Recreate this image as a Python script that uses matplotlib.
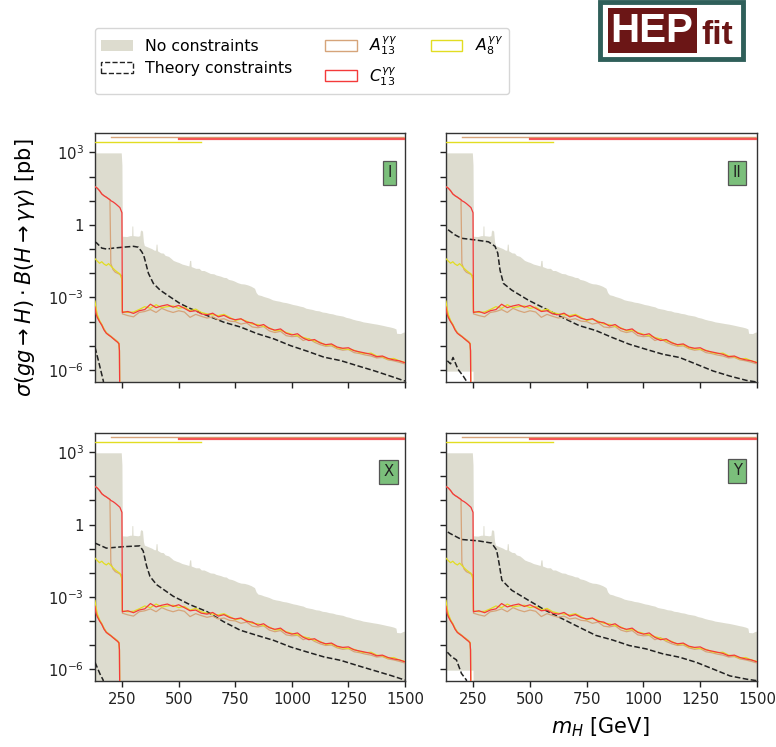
import numpy as np
import matplotlib
matplotlib.use("Agg")
import matplotlib.pyplot as plt
from matplotlib.patches import Patch, Rectangle
from matplotlib.ticker import FixedLocator, FixedFormatter, NullLocator

# ---------------- data ----------------
panels = ["I", "II", "X", "Y"]

# mass grid for the experimental curves (GeV)
mass = [130, 140, 150, 160, 170, 180, 190, 196, 200, 210, 220, 230, 240, 249,
        251, 275, 300, 325, 350, 375, 400, 425, 450, 475, 500, 525, 550, 575,
        600, 625, 650, 675, 700, 725, 750, 775, 800, 825, 850, 875, 900, 925,
        950, 975, 1000, 1025, 1050, 1075, 1100, 1125, 1150, 1175, 1200, 1225,
        1250, 1275, 1300, 1325, 1350, 1375, 1400, 1425, 1450, 1475, 1500]

C13_upper = [38, 33, 26, 19, 16, 14, 12, 11, 10, 8.9, 7.6, 6.3, 5.2, 3.2,
             2.40e-4, 2.63e-4, 2.19e-4, 2.82e-4, 3.16e-4, 5.25e-4, 3.80e-4, 4.47e-4,
             5.01e-4, 3.98e-4, 4.68e-4, 3.55e-4, 2.63e-4, 2.82e-4, 2.09e-4, 1.91e-4,
             2.24e-4, 1.58e-4, 1.82e-4, 1.38e-4, 1.20e-4, 1.32e-4, 9.55e-5, 8.91e-5,
             6.61e-5, 7.59e-5, 5.25e-5, 4.47e-5, 5.01e-5, 3.31e-5, 2.82e-5, 3.16e-5,
             2.09e-5, 1.66e-5, 1.82e-5, 1.32e-5, 1.12e-5, 1.20e-5, 8.91e-6, 7.94e-6,
             8.32e-6, 6.31e-6, 5.62e-6, 5.01e-6, 4.47e-6, 3.55e-6, 3.80e-6, 3.02e-6,
             2.63e-6, 2.40e-6, 2.00e-6]

A13_upper = [38, 33, 26, 19, 16, 14, 12, 11, 0.025, 0.014, 0.011, 0.010, 0.0089, 0.0079,
             2.09e-4, 1.78e-4, 1.58e-4, 2.40e-4, 2.63e-4, 3.16e-4, 2.40e-4, 3.55e-4,
             2.82e-4, 2.40e-4, 2.82e-4, 2.51e-4, 1.51e-4, 2.00e-4, 1.66e-4, 1.41e-4,
             1.58e-4, 1.20e-4, 1.32e-4, 1.05e-4, 1.00e-4, 7.94e-5, 8.91e-5, 6.03e-5,
             5.62e-5, 6.31e-5, 4.17e-5, 3.55e-5, 3.98e-5, 2.63e-5, 2.40e-5, 2.51e-5,
             1.66e-5, 2.00e-5, 1.41e-5, 1.12e-5, 9.55e-6, 1.00e-5, 7.59e-6, 6.61e-6,
             7.08e-6, 5.25e-6, 4.79e-6, 4.17e-6, 3.80e-6, 3.16e-6, 3.31e-6, 2.63e-6,
             2.40e-6, 2.09e-6, 1.78e-6]

A8_upper = [0.040, 0.032, 0.026, 0.030, 0.024, 0.021, 0.025, 0.022, 0.020, 0.016, 0.013,
            0.011, 0.0095, 0.0056,
            2.63e-4, 2.40e-4, 2.51e-4, 3.16e-4, 4.17e-4, 3.55e-4, 5.01e-4, 3.80e-4,
            4.17e-4, 4.47e-4, 3.55e-4, 3.98e-4, 2.82e-4, 3.31e-4, 2.40e-4, 2.09e-4,
            1.91e-4, 1.78e-4, 2.00e-4, 1.51e-4, 1.12e-4, 1.26e-4, 1.05e-4, 7.94e-5,
            7.59e-5, 6.31e-5, 5.62e-5, 4.17e-5, 4.47e-5, 3.55e-5, 3.02e-5, 2.63e-5,
            2.24e-5, 1.91e-5, 1.58e-5, 1.41e-5, 1.05e-5, 1.12e-5, 8.32e-6, 7.59e-6,
            7.08e-6, 6.61e-6, 5.25e-6, 4.79e-6, 5.01e-6, 3.80e-6, 3.55e-6, 2.82e-6,
            3.02e-6, 2.40e-6, 2.09e-6]

# lower branches (low mass only)
mass_low = [130, 135, 140, 150, 160, 170, 180, 190, 200, 210, 220, 230, 236, 238, 240]
C13_lower = [4.0e-4, 2.0e-4, 1.5e-4, 1.0e-4, 7.1e-5, 4.5e-5, 3.3e-5, 2.8e-5, 2.4e-5,
             2.0e-5, 1.66e-5, 1.4e-5, 1.2e-5, 6.3e-6, 1e-8]
A13_lower = [4.5e-4, 2.5e-4, 1.66e-4, 1.05e-4, 7.6e-5, 5.0e-5, 3.5e-5, 3.0e-5, 2.5e-5,
             2.1e-5, 1.8e-5, 1.5e-5, 1.26e-5, 6.3e-6, 1e-8]
A8_lower = [7.1e-4, 3.5e-4, 2.0e-4, 1.12e-4, 7.6e-5, 4.8e-5, 3.5e-5, 2.8e-5, 2.5e-5,
            2.0e-5, 1.74e-5, 1.45e-5, 1.26e-5, 6.3e-6, 1e-8]

# search ranges (mass interval, level) drawn at top
A13_range = [200, 1500]
C13_range = [500, 1500]
A8_range = [130, 600]
A13_level = 4300
C13_level = 3400
A8_level = 2600

# "No constraints" region (upper envelope)
gray_mass = [130, 246, 249, 251, 270, 285, 292, 293, 297, 298, 320, 328, 330, 334, 340,
             344, 348, 365, 380, 392, 398, 400, 404, 406, 420, 432, 440, 455, 465, 476,
             490, 500, 515, 530, 545, 548, 553, 555, 575, 590, 600, 612, 624, 640, 655,
             665, 685, 698, 710, 720, 735, 745, 760, 775, 790, 805, 820, 835, 842, 850,
             865, 875, 890, 900, 915, 930, 945, 960, 975, 990, 1005, 1020, 1035, 1050,
             1062, 1075, 1090, 1105, 1120, 1135, 1150, 1165, 1180, 1195, 1210, 1225,
             1240, 1255, 1270, 1285, 1300, 1315, 1330, 1345, 1360, 1375, 1390, 1405,
             1420, 1435, 1450, 1460, 1463, 1480, 1490, 1500]
gray_upper = [950, 950, 300, 0.34, 0.33, 0.36, 0.36, 0.9, 0.9, 0.36, 0.34, 0.36, 0.55,
              0.62, 0.55, 0.2, 0.14, 0.12, 0.105, 0.09, 0.09, 0.16, 0.16, 0.085, 0.07,
              0.068, 0.055, 0.05, 0.042, 0.034, 0.03, 0.028, 0.024, 0.022, 0.020, 0.034,
              0.034, 0.019, 0.016, 0.016, 0.013, 0.013, 0.0115, 0.0098, 0.0095, 0.0085,
              0.0076, 0.0068, 0.0066, 0.0056, 0.0052, 0.0048, 0.0041, 0.0037, 0.0036,
              0.0033, 0.0029, 0.0024, 0.0016, 0.0013, 0.0012, 0.0011, 0.0010, 9.3e-4,
              8.0e-4, 7.4e-4, 7.0e-4, 6.4e-4, 6.1e-4, 5.6e-4, 5.1e-4, 4.8e-4, 4.4e-4,
              4.1e-4, 3.6e-4, 3.4e-4, 3.2e-4, 2.9e-4, 2.8e-4, 2.5e-4, 2.4e-4, 2.2e-4,
              2.1e-4, 1.9e-4, 1.8e-4, 1.7e-4, 1.5e-4, 1.4e-4, 1.25e-4, 1.15e-4, 1.08e-4,
              9.8e-5, 9.3e-5, 8.8e-5, 8.3e-5, 7.9e-5, 7.4e-5, 6.9e-5, 6.4e-5, 6.0e-5,
              5.5e-5, 5.0e-5, 3.3e-5, 3.2e-5, 3.6e-5, 3.8e-5]
# white notch at the bottom-left (mass limit, level) for some panels
gray_notch = {"I": None, "II": (250, 9e-7), "X": None, "Y": (250, 9e-7)}

# theory constraints (dashed)
th_up_mass = {
    "I": [130, 137, 160, 182, 211, 255, 300, 321, 336, 345, 351, 366, 388, 418, 462, 506,
          551, 625, 699, 773, 846, 920, 994, 1068, 1142, 1216, 1290, 1364, 1438, 1500],
    "II": [139, 169, 198, 257, 317, 346, 358, 368, 383, 420, 494, 568, 642, 716, 790, 863,
           937, 1011, 1085, 1159, 1233, 1307, 1381, 1455, 1500],
    "X": [130, 180, 254, 328, 343, 358, 373, 402, 476, 550, 624, 698, 772, 846, 920, 994,
          1068, 1142, 1216, 1290, 1364, 1438, 1500],
    "Y": [138, 147, 198, 272, 331, 353, 364, 376, 420, 494, 568, 642, 716, 790, 863, 937,
          1011, 1085, 1159, 1233, 1307, 1381, 1455, 1500],
}
th_up_val = {
    "I": [0.20, 0.18, 0.11, 0.10, 0.11, 0.12, 0.13, 0.12, 0.079, 0.056, 0.035, 0.010,
          3.8e-3, 2.0e-3, 1.05e-3, 5.6e-4, 3.5e-4, 1.8e-4, 9.5e-5, 6.0e-5, 3.2e-5, 1.95e-5,
          1.02e-5, 6.0e-6, 3.4e-6, 2.45e-6, 1.5e-6, 9.3e-7, 5.5e-7, 3.5e-7],
    "II": [0.63, 0.39, 0.28, 0.24, 0.20, 0.13, 0.068, 0.0135, 3.8e-3, 2.0e-3, 7.6e-4,
           3.4e-4, 1.5e-4, 6.9e-5, 4.3e-5, 2.2e-5, 1.17e-5, 7.2e-6, 4.5e-6, 3.3e-6, 1.74e-6,
           9.1e-7, 5.6e-7, 3.7e-7, 3.2e-7],
    "X": [0.17, 0.105, 0.12, 0.13, 0.08, 0.019, 7.0e-3, 3.2e-3, 1.05e-3, 4.7e-4, 2.45e-4,
          9.3e-5, 4.1e-5, 2.5e-5, 1.55e-5, 8.3e-6, 5.1e-6, 3.2e-6, 2.3e-6, 1.4e-6, 8.7e-7,
          5.4e-7, 3.5e-7],
    "Y": [0.49, 0.43, 0.24, 0.21, 0.17, 0.087, 0.024, 4.9e-3, 1.86e-3, 7.1e-4, 2.75e-4,
          1.23e-4, 5.5e-5, 2.5e-5, 1.62e-5, 9.5e-6, 6.9e-6, 4.3e-6, 3.1e-6, 1.9e-6, 1.0e-6,
          5.2e-7, 3.8e-7, 3.3e-7],
}
th_lo_mass = {
    "I": [130, 145, 167, 175],
    "II": [136, 150, 161, 183, 206, 220, 225],
    "X": [130, 152, 166, 175],
    "Y": [136, 154, 176, 198, 220, 225],
}
th_lo_val = {
    "I": [8.7e-6, 2.45e-6, 3.5e-7, 1e-8],
    "II": [2.4e-6, 1.8e-6, 3.3e-6, 1.07e-6, 5.6e-7, 3.5e-7, 1e-8],
    "X": [1.9e-6, 6.3e-7, 3.5e-7, 1e-8],
    "Y": [5.0e-6, 3.3e-6, 2.4e-6, 6.6e-7, 3.5e-7, 1e-8],
}

y_ticks = [1e-6, 1e-5, 1e-4, 1e-3, 1e-2, 1e-1, 1, 1e1, 1e2, 1e3]
y_tick_labels = ["$10^{-6}$", "", "", "$10^{-3}$", "", "", "$1$", "", "", "$10^{3}$"]
x_ticks = [250, 500, 750, 1000, 1250, 1500]

# ---------------- style ----------------
c_gray = "#dddccf"
c_tan = "#d6a47a"
c_red = "#f43a3a"
c_yel = "#e2dd22"
c_badge = "#7bbf7b"

fig = plt.figure(figsize=(7.76, 7.47), dpi=100)
W, H = 776.0, 747.0
pos = {
    "I": [95 / W, 1 - 382 / H, 310 / W, 249 / H],
    "II": [446 / W, 1 - 382 / H, 311 / W, 249 / H],
    "X": [95 / W, 1 - 681 / H, 310 / W, 248 / H],
    "Y": [446 / W, 1 - 681 / H, 311 / W, 248 / H],
}
badge_pos = {"I": (0.951, 0.841), "II": (0.936, 0.841), "X": (0.946, 0.844), "Y": (0.936, 0.847)}

gm = np.array(gray_mass)
for p in panels:
    ax = fig.add_axes(pos[p])
    lower = np.full(len(gm), 1e-8)
    if gray_notch[p] is not None:
        lower = np.where(gm < gray_notch[p][0], gray_notch[p][1], 1e-8)
    ax.fill_between(gm, lower, gray_upper, color=c_gray, lw=0, zorder=1)

    ax.plot(th_up_mass[p], th_up_val[p], ls="--", color="#222222", lw=1.1, zorder=3)
    ax.plot(th_lo_mass[p], th_lo_val[p], ls="--", color="#222222", lw=1.1, zorder=3)

    ax.plot(mass, A13_upper, color=c_tan, lw=0.9, zorder=4)
    ax.plot(mass_low, A13_lower, color=c_tan, lw=0.9, zorder=4)
    ax.plot(mass, A8_upper, color=c_yel, lw=0.9, zorder=5)
    ax.plot(mass_low, A8_lower, color=c_yel, lw=0.9, zorder=5)
    ax.plot(mass, C13_upper, color=c_red, lw=0.9, zorder=6)
    ax.plot(mass_low, C13_lower, color=c_red, lw=0.9, zorder=6)

    ax.plot(A13_range, [A13_level, A13_level], color=c_tan, lw=1.0, zorder=4)
    ax.plot(C13_range, [C13_level, C13_level], color=c_red, lw=1.6, alpha=0.85, zorder=6)
    ax.plot(A8_range, [A8_level, A8_level], color=c_yel, lw=1.0, zorder=5)

    ax.set_yscale("log")
    ax.set_xlim(130, 1500)
    ax.set_ylim(3.2e-7, 6.3e3)
    ax.yaxis.set_major_locator(FixedLocator(y_ticks))
    ax.yaxis.set_major_formatter(FixedFormatter(y_tick_labels))
    ax.yaxis.set_minor_locator(NullLocator())
    ax.set_xticks(x_ticks)
    ax.tick_params(labelsize=10.75, length=4.5, width=1, colors="#222222")
    for s in ax.spines.values():
        s.set_color("#333333")
        s.set_linewidth(1.0)
    if p in ("I", "II"):
        ax.tick_params(labelbottom=False)
    if p in ("II", "Y"):
        ax.tick_params(labelleft=False)

    ax.text(badge_pos[p][0], badge_pos[p][1], p, transform=ax.transAxes, ha="center",
            va="center", fontsize=10.75, color="#222222", zorder=10,
            bbox=dict(boxstyle="square,pad=0.3", fc=c_badge, ec="#555555", lw=0.9))

fig.text(25 / W, 1 - 268 / H, r"$\sigma(gg\to H)\cdot B(H\to\gamma\gamma)$ [pb]",
         rotation=90, ha="center", va="center", fontsize=15)
fig.text(600 / W, 1 - 727 / H, r"$m_H$ [GeV]", ha="center", va="center", fontsize=15)

handles = [
    Patch(facecolor=c_gray, edgecolor="none", label="No constraints"),
    Patch(facecolor="none", edgecolor="#222222", linestyle="--", label="Theory constraints"),
    Patch(facecolor="none", edgecolor=c_tan, label=r"$A_{13}^{\gamma\gamma}$"),
    Patch(facecolor="none", edgecolor=c_red, label=r"$C_{13}^{\gamma\gamma}$"),
    Patch(facecolor="none", edgecolor=c_yel, label=r"$A_{8}^{\gamma\gamma}$"),
]
fig.legend(handles=handles, loc="upper left", bbox_to_anchor=(95 / W, 1 - 28 / H),
           ncol=3, fontsize=11.3, borderaxespad=0, columnspacing=2.1, frameon=True)

# HEPfit logo
fig.add_artist(Rectangle((600 / W, 1 - 59 / H), 143 / W, 57 / H, transform=fig.transFigure,
                         fc="white", ec="#2f5f5a", lw=3.5))
fig.add_artist(Rectangle((608 / W, 1 - 53 / H), 89 / W, 45 / H, transform=fig.transFigure,
                         fc="#6b1616", ec="none"))
fig.text(652 / W, 1 - 31 / H, "HEP", ha="center", va="center", color="white",
         fontsize=29, fontweight="bold", family="Liberation Sans")
fig.text(717 / W, 1 - 35 / H, "fit", ha="center", va="center", color="#6b1616",
         fontsize=24, fontweight="bold", family="Liberation Sans")

fig.savefig("out.png", dpi=100)
